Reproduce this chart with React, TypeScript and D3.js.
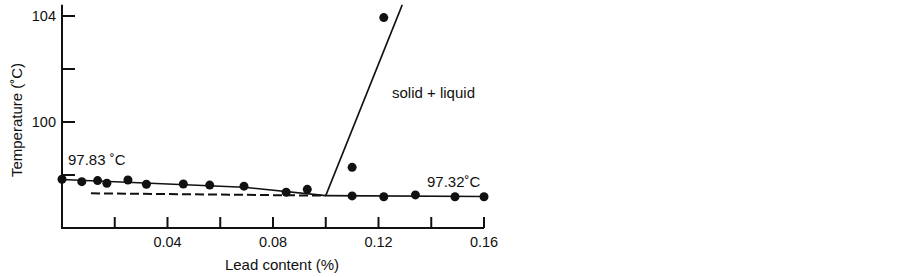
import React from 'react';
import * as d3 from 'd3';

// measured points (lead content %, temperature °C)
const leadContent = [0, 0.0075, 0.0135, 0.017, 0.025, 0.032, 0.046, 0.056, 0.069, 0.085, 0.093, 0.11, 0.122, 0.134, 0.149, 0.16];
const temperature = [97.84, 97.75, 97.79, 97.69, 97.81, 97.65, 97.66, 97.62, 97.58, 97.35, 97.46, 97.21, 97.18, 97.25, 97.18, 97.18];
const outlierLead = [0.11, 0.122];
const outlierTemp = [98.29, 103.94];

// drawn lines
const solidLine: [number, number][] = [[0, 97.83], [0.069, 97.54], [0.1, 97.22]];
const dashLine: [number, number][] = [[0.011, 97.31], [0.1, 97.22]];
const flatLine: [number, number][] = [[0.1, 97.22], [0.16, 97.19]];
const liquidusLine: [number, number][] = [[0.1, 97.22], [0.129, 104.42]];

const xTicks = [0.02, 0.04, 0.06, 0.08, 0.1, 0.12, 0.14, 0.16];
const xLabels = [0.04, 0.08, 0.12, 0.16];
const yTicks = [98, 100, 102, 104];
const yLabels = [100, 104];

const font = 'Liberation Sans, Arial, sans-serif';

const App = () => {
  const width = 899;
  const height = 277;

  const x = d3.scaleLinear().domain([0, 0.16]).range([62, 484]);
  const y = d3.scaleLinear().domain([96, 104]).range([228, 16]);
  const yTop = y(104.42);

  const line = d3.line<[number, number]>()
    .x(d => x(d[0]))
    .y(d => y(d[1]));

  const points = leadContent.map((v, i) => [v, temperature[i]]);
  const outliers = outlierLead.map((v, i) => [v, outlierTemp[i]]);

  return (
    <svg width={width} height={height} style={{ position: 'absolute', left: 0, top: 0, background: '#fff' }}>
      <g stroke="#111" fill="none">
        <path d={line(solidLine) || ''} strokeWidth={1.6} />
        <path d={line(dashLine) || ''} strokeWidth={2} strokeDasharray="9,4" />
        <path d={line(flatLine) || ''} strokeWidth={1.6} />
        <path d={line(liquidusLine) || ''} strokeWidth={1.6} />
      </g>

      {/* axes */}
      <g stroke="#111" strokeWidth={2}>
        <line x1={x(0)} x2={x(0)} y1={yTop} y2={y(96) + 1} />
        <line x1={x(0)} x2={x(0.16)} y1={y(96)} y2={y(96)} />
        {yTicks.map(t => (
          <line key={t} x1={x(0)} x2={x(0) + 13} y1={y(t)} y2={y(t)} />
        ))}
        {xTicks.map(t => (
          <line key={t} x1={x(t)} x2={x(t)} y1={y(96)} y2={y(96) - 11} />
        ))}
      </g>

      <g fill="#111">
        {points.map((d, i) => (
          <circle key={i} cx={x(d[0])} cy={y(d[1])} r={4.5} />
        ))}
        {outliers.map((d, i) => (
          <circle key={'o' + i} cx={x(d[0])} cy={y(d[1])} r={4.5} />
        ))}
      </g>

      <g fontFamily={font} fontSize={14.5} fill="#111">
        {yLabels.map(t => (
          <text key={t} x={x(0) - 6} y={y(t)} dy="0.35em" textAnchor="end">{t}</text>
        ))}
        {xLabels.map(t => (
          <text key={t} x={x(t)} y={247} textAnchor="middle">{t.toFixed(2)}</text>
        ))}
      </g>
      <g fontFamily={font} fontSize={15} fill="#111">
        <text x={282} y={270} textAnchor="middle">Lead content (%)</text>
        <text transform="translate(22,120) rotate(-90)" textAnchor="middle">Temperature (˚C)</text>
        <text x={68} y={165}>97.83 ˚C</text>
        <text x={427} y={187}>97.32˚C</text>
        <text x={392} y={98}>solid + liquid</text>
      </g>
    </svg>
  );
};

export default App;
